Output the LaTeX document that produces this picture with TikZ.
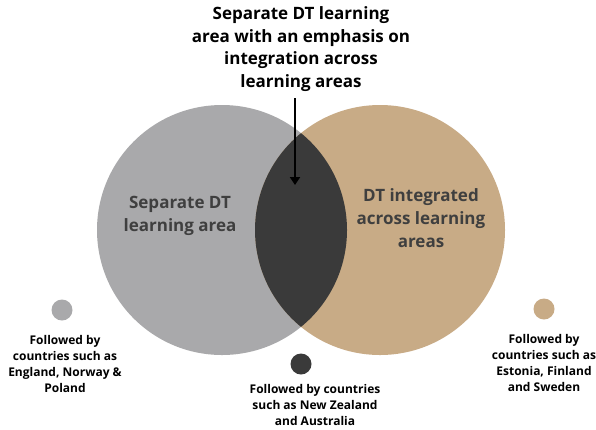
\documentclass[tikz,border=0pt]{standalone}
\usepackage{fontspec}
\setmainfont{Open Sans}
\usepackage{tikz}
\usetikzlibrary{positioning,calc,arrows.meta}

\definecolor{sepgray}{HTML}{A9A9AB}
\definecolor{inttan}{HTML}{C8AB86}
\definecolor{bothdark}{HTML}{3A3A3A}
\definecolor{labeltext}{HTML}{3F3F3F}

\begin{document}
\begin{tikzpicture}[x=1pt, y=-1pt]
 \useasboundingbox (0,0) rectangle (596,429);

\tikzstyle{area}=[circle,draw=none,outer sep=0pt,minimum size=250pt]
\tikzstyle{dot}=[circle,draw=none,minimum size=21pt,inner sep=0pt]
\tikzstyle{bigtext}=[align=center,font=\bfseries\fontsize{17}{22.7}\selectfont]
\tikzstyle{smalltext}=[align=center,font=\bfseries\fontsize{12}{16}\selectfont,text=black]

   %draw circles
    \node (separate) [area,fill=sepgray] at (222,230) {};
    \node (integrated) [area,fill=inttan] at (380,230) {};

   %overlap
    \begin{scope}
     \clip (separate.center) circle (125);
     \fill[bothdark] (integrated.center) circle (125);
    \end{scope}

    \node (separate_label) [bigtext,text=labeltext] at (180,216) {Separate DT\\learning area};
    \node (integrated_label) [bigtext,text=labeltext] at (421,218) {DT integrated\\across learning\\areas};

   %title and arrow
    \node (title) [bigtext,text=black] at (301,49) {Separate DT learning\\area with an emphasis on\\integration across\\learning areas};
    \coordinate (tip) at (295,185);
    \draw [line width=2.2pt,-{Triangle[length=8pt,width=10pt]}] (title.south -| tip) ++(0,3) -- (tip);

   %countries
    \node (dot_separate) [dot,fill=sepgray] at (62,310) {};
    \node (dot_both) [dot,fill=bothdark] at (301,364) {};
    \node (dot_integrated) [dot,fill=inttan] at (544,309) {};

    \node (countries_separate) [smalltext] at (65,364) {Followed by\\countries such as\\England, Norway \&\\Poland};
    \node (countries_both) [smalltext] at (315,405) {Followed by countries\\such as New Zealand\\and Australia};
    \node (countries_integrated) [smalltext] at (544,363) {Followed by\\countries such as\\Estonia, Finland\\and Sweden};

\end{tikzpicture}
\end{document}
